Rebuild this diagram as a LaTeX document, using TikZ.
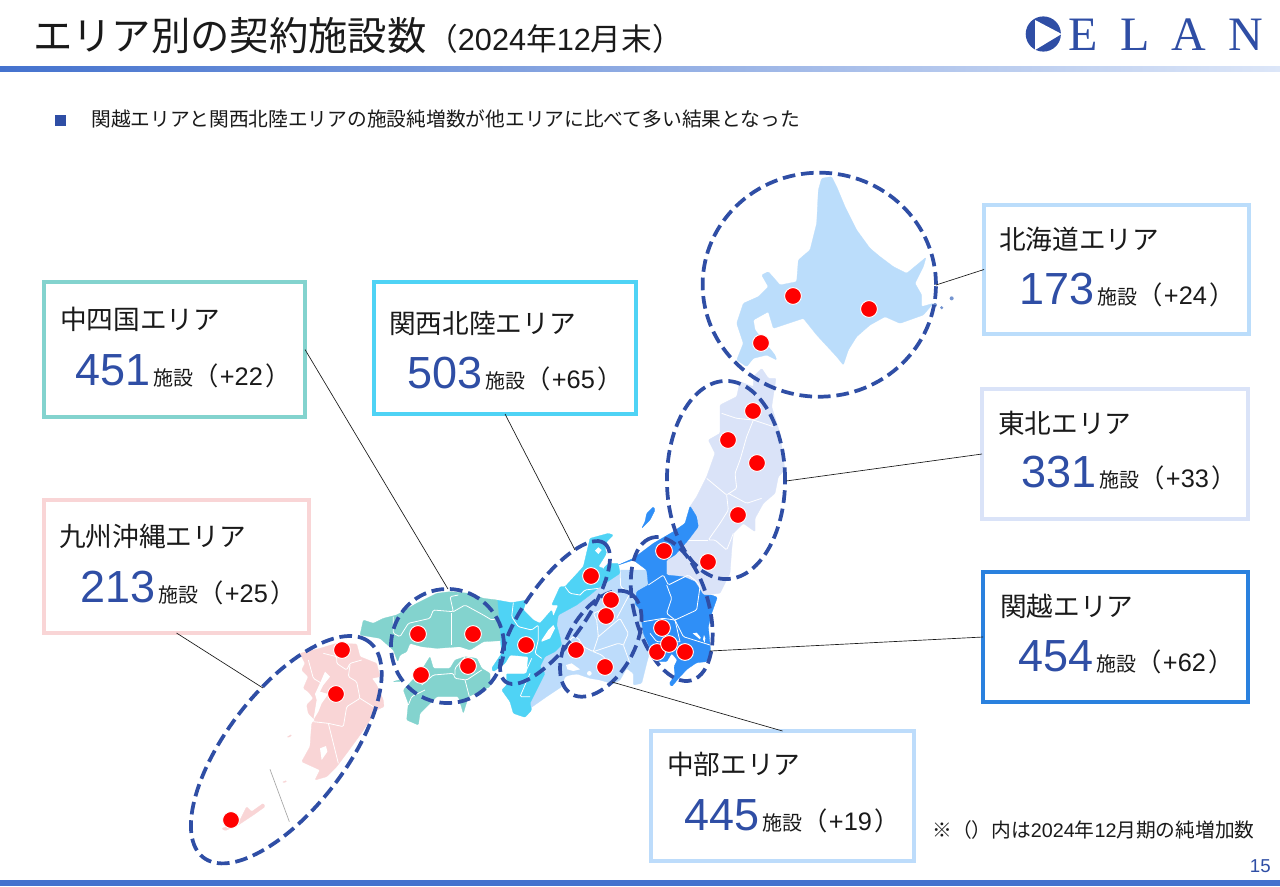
\documentclass[tikz,border=0pt]{standalone}
\usepackage{fontspec}
\setmainfont{Liberation Sans}
\newfontfamily\cjk{Noto Sans CJK JP}
\newfontfamily\serifl{Liberation Serif}
\definecolor{navy}{HTML}{2F4EA5}
\definecolor{ink}{HTML}{1A1A1A}
\definecolor{cBar}{HTML}{4472CE}
\definecolor{cBar2}{HTML}{DCE6F8}
\definecolor{cHok}{HTML}{BBDDFB}
\definecolor{cToh}{HTML}{DAE3F8}
\definecolor{cKan}{HTML}{2F8FF7}
\definecolor{cChu}{HTML}{BDDCFB}
\definecolor{cKin}{HTML}{4FD3F5}
\definecolor{cShi}{HTML}{83D3CE}
\definecolor{cKyu}{HTML}{F9D5D6}
\newcommand{\numline}[2]{{\fontsize{33.75}{36}\selectfont\color{navy}#1}\hspace{2.2pt}{\cjk\fontsize{15}{18}\selectfont\color{ink}施設}{\color{ink}\fontsize{19}{20}\selectfont{\cjk（}\hspace{1pt}+#2\hspace{2.2pt}{\cjk）}}}
\tikzset{
 x=0.75pt,y=-0.75pt,
 zm/.style 2 args={shift={(#1,#2)},x=0.25pt,y=-0.25pt},
 land/.style={fill=#1,draw=#1,line width=0.2pt,rounded corners=0.8pt},
 seam/.style={draw=white,line width=0.6pt,rounded corners=1pt},
 ring/.style={draw=navy,line width=2.8pt,dash pattern=on 9.5pt off 4.4pt},
 spot/.style={circle,fill=red,draw=white,line width=0.7pt,minimum size=12.6pt,inner sep=0pt},
 areabox/.style 2 args={draw=#1,line width=2.5pt,fill=white,inner sep=0pt,outer sep=0pt,minimum width=#2},
 lead/.style={draw=ink,line width=0.5pt},
 areaname/.style={anchor=base west,inner sep=0pt,text=ink,font=\cjk\fontsize{20}{24}\selectfont},
 areanum/.style={anchor=base west,inner sep=0pt},
 logol/.style={anchor=base,inner sep=0pt,text=navy,font=\serifl\fontsize{36}{40}\selectfont},
}
\begin{document}
\begin{tikzpicture}
\useasboundingbox (0,0) rectangle (1280,886);
\fill[white] (0,0) rectangle (1280,886);
% header
\shade[left color=cBar,right color=cBar2] (0,66) rectangle (1280,71);
\fill[cBar] (0,880) rectangle (1280,886);
\node[anchor=base west,inner sep=0pt,text=ink,font=\cjk\fontsize{29.5}{34}\selectfont] (title) at (33,50) {エリア別の契約施設数};
\node[anchor=base west,inner sep=0pt,text=ink,font=\fontsize{23}{26}\selectfont] (period) at (427,50) {{\cjk（}2024{\cjk 年}12{\cjk 月末）}};
\node[anchor=center,fill=navy,minimum size=8.2pt,inner sep=0pt] (bullet) at (60.5,120.5) {};
\node[anchor=base west,inner sep=0pt,text=ink,font=\cjk\fontsize{14.8}{18}\selectfont] (lead) at (91,126) {関越エリアと関西北陸エリアの施設純増数が他エリアに比べて多い結果となった};
\node[anchor=base west,inner sep=0pt,text=ink,font=\fontsize{14.8}{18}\selectfont] (note) at (932,837) {{\cjk ※（）内は}2024{\cjk 年}12{\cjk 月期の純増加数}};
\node[anchor=base east,inner sep=0pt,text=navy,font=\fontsize{14}{16}\selectfont] (page) at (1271,872) {15};
% logo
\fill[navy] (1043.3,34) circle[radius=13.2pt];
\fill[white] (1035,20) -- (1061.6,34) -- (1035,50) -- cycle;
\node[logol] (logoE) at (1083,50) {E};
\node[logol] (logoL) at (1135,50) {L};
\node[logol] (logoA) at (1189,50) {A};
\node[logol] (logoN) at (1246,50) {N};
% map
\begin{scope}[zm={490}{530}]
\path[land=cChu] (165,380) -- (215,345) -- (210,320) -- (200,285) -- (205,255) -- (260,225) -- (300,195) -- (345,160) -- (390,120) -- (470,120) -- (475,165) -- (440,185) -- (435,220) -- (450,240) -- (460,310) -- (475,350) -- (478,370) -- (470,400) -- (455,460) -- (430,465) -- (430,430) -- (410,415) -- (390,450) -- (370,462) -- (330,450) -- (300,445) -- (262,432) -- (240,435) -- (225,440) -- (215,470) -- (170,500) -- (120,535) -- (120,520) -- (165,430) -- (150,410) -- cycle;
\path[fill=white] (228,405) -- (245,400) -- (270,418) -- (250,423) -- (232,418) -- cycle;
\path[fill=white] (298,430) circle[radius=7];
\draw[seam] (320,270) -- (325,320) -- (310,365) -- (280,350) -- (265,325) -- (250,320) -- (240,330);
\draw[seam] (310,365) -- (335,375) -- (345,385);
\draw[seam] (325,320) -- (390,265) -- (415,310) -- (400,345) -- (420,400);
\draw[seam] (310,365) -- (385,340) -- (400,345);
\draw[seam] (390,120) -- (392,170) -- (420,190) -- (380,265);
\draw[seam] (320,270) -- (310,250) -- (345,235);
\path[land=cKin] (300,25) -- (355,10) -- (370,15) -- (350,35) -- (345,55) -- (350,70) -- (325,110) -- (340,115) -- (355,100) -- (385,100) -- (390,130) -- (345,160) -- (330,170) -- (300,195) -- (260,225) -- (205,255) -- (200,285) -- (210,320) -- (215,345) -- (195,365) -- (165,380) -- (150,410) -- (165,430) -- (120,520) -- (125,540) -- (105,562) -- (70,550) -- (60,515) -- (35,480) -- (50,465) -- (50,430) -- (110,430) -- (115,380) -- (60,375) -- (45,400) -- (10,425) -- (5,415) -- (35,370) -- (20,210) -- (65,218) -- (110,210) -- (100,240) -- (130,270) -- (150,280) -- (185,240) -- (190,260) -- (205,225) -- (185,225) -- (210,170) -- (225,170) -- (280,110) -- cycle;
\path[fill=white] (155,330) -- (175,300) -- (190,285) -- (195,295) -- (180,325) -- (155,335) -- cycle;
\path[fill=white] (315,62) -- (325,52) -- (335,60) -- (325,72) -- cycle;
\draw[seam] (70,218) -- (65,260) -- (85,290) -- (125,300) -- (145,285) -- (145,330) -- (135,370) -- (155,385);
\draw[seam] (225,170) -- (240,190) -- (270,195);
\draw[seam] (125,385) -- (105,430) -- (50,430);
\draw[seam] (120,430) -- (90,500) -- (120,500);
\draw[seam] (270,195) -- (285,180) -- (325,175);
\draw[seam] (350,70) -- (340,115);
\end{scope}
\begin{scope}[zm={350}{590}]
\path[land=cShi] (40,90) -- (70,100) -- (100,85) -- (140,75) -- (200,40) -- (260,10) -- (300,5) -- (360,10) -- (400,25) -- (442,30) -- (452,152) -- (400,155) -- (360,180) -- (330,170) -- (260,175) -- (215,170) -- (180,160) -- (170,185) -- (150,195) -- (143,215) -- (130,180) -- (90,145) -- (30,135) -- cycle;
\path[land=cShi] (240,200) -- (250,235) -- (300,235) -- (315,210) -- (345,200) -- (380,205) -- (395,235) -- (420,250) -- (420,290) -- (355,320) -- (340,370) -- (325,320) -- (260,320) -- (210,370) -- (205,405) -- (170,390) -- (175,340) -- (160,300) -- (215,240) -- cycle;
\path[land=cShi] (128,275) -- (155,268) -- (150,275) -- cycle;
\draw[seam] (130,80) -- (130,130) -- (150,140) -- (175,100) -- (240,85) -- (250,60) -- (310,65) -- (300,20) -- (325,15);
\draw[seam] (310,65) -- (345,45) -- (400,75) -- (425,90) -- (442,85);
\draw[seam] (305,70) -- (305,165);
\draw[seam] (215,285) -- (250,255) -- (310,250) -- (315,265) -- (350,270) -- (395,240);
\draw[seam] (345,200) -- (315,235) -- (315,255);
\draw[seam] (345,270) -- (358,320);
\draw[seam] (225,300) -- (185,320) -- (175,345);
\end{scope}
\begin{scope}[zm={180}{620}]
\path[land=cKyu] (360,100) -- (420,85) -- (470,70) -- (530,72) -- (540,110) -- (590,130) -- (600,170) -- (575,175) -- (590,195) -- (610,240) -- (612,260) -- (590,270) -- (570,300) -- (540,345) -- (500,400) -- (470,440) -- (440,470) -- (405,480) -- (420,450) -- (365,425) -- (390,380) -- (395,310) -- (405,300) -- (385,280) -- (380,255) -- (400,235) -- (385,215) -- (370,205) -- (385,170) -- (365,150) -- (375,130) -- cycle;
\path[fill=white] (435,155) -- (450,170) -- (430,195) -- (420,215) -- (445,222) -- (425,250) -- (415,275) -- (400,300) -- (405,270) -- (410,240) -- (405,222) -- (422,185) -- cycle;
\path[fill=white] (420,385) -- (438,378) -- (442,395) -- (425,420) -- cycle;
\path[land=cKyu] (125,625) -- (175,610) -- (190,580) -- (200,560) -- (215,575) -- (250,550) -- (255,560) -- (220,585) -- (175,615) -- (135,632) -- cycle;
\path[land=cKyu] (320,352) -- (335,343) -- (332,350) -- cycle;
\path[land=cKyu] (306,487) -- (320,481) -- (318,487) -- cycle;
\draw[seam] (385,120) -- (400,175) -- (425,190);
\draw[seam] (430,100) -- (470,110) -- (470,130) -- (500,150) -- (510,130) -- (545,120);
\draw[seam] (510,135) -- (505,170) -- (530,185) -- (540,235) -- (500,260) -- (490,320) -- (445,310) -- (400,305);
\draw[seam] (540,235) -- (580,260);
\draw[seam] (445,310) -- (465,390) -- (475,430);
\draw[gray!70,line width=0.5pt] (270,448) -- (328,605);
\end{scope}
\begin{scope}[zm={640}{160}]
\path[land=cToh] (365,625) -- (385,655) -- (408,655) -- (395,740) -- (420,820) -- (435,930) -- (415,950) -- (405,1000) -- (370,1030) -- (345,1075) -- (345,1115) -- (310,1090) -- (280,1120) -- (275,1170) -- (270,1240) -- (240,1300) -- (190,1305) -- (165,1265) -- (130,1250) -- (80,1245) -- (80,1200) -- (105,1170) -- (145,1135) -- (175,1075) -- (150,1040) -- (170,1010) -- (200,950) -- (225,880) -- (205,840) -- (240,820) -- (240,735) -- (290,710) -- (300,665) -- (340,680) -- (340,650) -- cycle;
\draw[seam] (245,760) -- (290,775) -- (340,780) -- (400,800);
\draw[seam] (340,780) -- (320,830) -- (300,900) -- (285,940) -- (290,985) -- (260,1005) -- (200,955);
\draw[seam] (260,1005) -- (265,1050) -- (240,1090) -- (205,1140) -- (225,1140) -- (260,1170) -- (280,1120);
\draw[seam] (265,1000) -- (320,1030) -- (365,1015);
\draw[seam] (205,1140) -- (145,1140);
\path[land=cHok] (545,55) -- (575,50) -- (590,80) -- (615,140) -- (650,210) -- (690,265) -- (720,290) -- (760,320) -- (800,340) -- (858,292) -- (850,320) -- (825,370) -- (845,405) -- (845,440) -- (880,430) -- (850,465) -- (780,490) -- (735,470) -- (690,495) -- (650,530) -- (625,570) -- (610,615) -- (590,590) -- (530,525) -- (490,475) -- (400,505) -- (385,455) -- (340,480) -- (345,510) -- (405,585) -- (410,600) -- (380,585) -- (340,595) -- (320,620) -- (290,600) -- (310,550) -- (290,490) -- (310,430) -- (355,410) -- (385,380) -- (365,345) -- (385,335) -- (420,375) -- (470,365) -- (475,300) -- (510,270) -- (530,190) -- (535,90) -- cycle;
\fill[cHok!50!navy] (885,435) circle[radius=6] (905,443) circle[radius=5] (935,415) circle[radius=6];
\path[land=cKan] (40,1040) -- (45,1050) -- (30,1080) -- (5,1105) -- (15,1085) -- (20,1060) -- cycle;
\end{scope}
\begin{scope}[zm={600}{520}]
\path[land=cKan] (270,-42) -- (290,-10) -- (295,20) -- (265,60) -- (225,105) -- (200,120) -- (200,165) -- (250,170) -- (285,185) -- (310,225) -- (335,225) -- (352,232) -- (335,280) -- (325,320) -- (332,395) -- (320,425) -- (290,428) -- (262,447) -- (240,470) -- (215,500) -- (208,490) -- (225,465) -- (222,440) -- (232,420) -- (215,400) -- (200,425) -- (170,425) -- (150,385) -- (130,340) -- (120,270) -- (105,250) -- (110,215) -- (145,195) -- (140,150) -- (100,120) -- (55,135) -- (100,115) -- (160,70) -- (220,35) -- (255,10) -- cycle;
\draw[seam] (145,195) -- (190,165) -- (205,195) -- (265,165) -- (290,185) -- (300,200) -- (290,270) -- (225,300) -- (200,280) -- (215,235) -- (200,195);
\draw[seam] (130,305) -- (190,295) -- (225,300) -- (250,350) -- (330,375);
\draw[seam] (225,300) -- (240,365);
\draw[seam] (150,340) -- (170,365) -- (240,365);
\path[fill=white] (278,340) -- (290,338) -- (302,352) -- (300,358) -- cycle;
\path[fill=white] (312,345) -- (316,355) -- (314,368) -- (309,358) -- cycle;
\end{scope}
% rings
\draw[ring] (819.3,284.7) ellipse[x radius=87.5pt,y radius=84pt];
\coordinate (ringHok) at (936,285);
\draw[ring] (726,480) ellipse[x radius=44.3pt,y radius=74.3pt];
\coordinate (ringToh) at (786,481);
\draw[ring] (447.5,646) ellipse[x radius=42.4pt,y radius=42.8pt];
\coordinate (ringShi) at (448,589);
\begin{scope}[shift={(555,612.5)},rotate=54.6]
\draw[ring] (0,0) ellipse[x radius=63.8pt,y radius=22.4pt];
\end{scope}
\coordinate (ringKin) at (575,550);
\begin{scope}[shift={(671.7,609)},rotate=105.5]
\draw[ring] (0,0) ellipse[x radius=55.5pt,y radius=27.9pt];
\end{scope}
\coordinate (ringKan) at (710,651);
\begin{scope}[shift={(600.8,643.7)},rotate=59.8]
\draw[ring] (0,0) ellipse[x radius=43.7pt,y radius=24.6pt];
\end{scope}
\coordinate (ringChu) at (612,682);
\begin{scope}[shift={(286.3,749.7)},rotate=52.4]
\draw[ring] (0,0) ellipse[x radius=102pt,y radius=44.5pt];
\end{scope}
\coordinate (ringKyu) at (263,688);
% boxes
\node[areabox={cHok}{198.75pt},minimum height=96.75pt] (boxHok) at (1116.5,269.5) {};
\node[areabox={cToh}{199.5pt},minimum height=97.5pt] (boxToh) at (1115,454) {};
\node[areabox={cKan!90!black}{198.75pt},minimum height=97.5pt] (boxKan) at (1115.5,637) {};
\node[areabox={cChu}{197.25pt},minimum height=97.5pt] (boxChu) at (782.5,796) {};
\node[areabox={cKin}{196.5pt},minimum height=99pt] (boxKin) at (505,348) {};
\node[areabox={cShi}{195.75pt},minimum height=101.25pt] (boxShi) at (174.5,349.5) {};
\node[areabox={cKyu}{198.75pt},minimum height=99.75pt] (boxKyu) at (176.5,566.5) {};
% connectors
\draw[lead] (boxHok.west) -- (ringHok);
\draw[lead] (boxToh.west) -- (ringToh);
\draw[lead] (boxKan.west) -- (ringKan);
\draw[lead] (boxChu.north) -- (ringChu);
\draw[lead] (boxKin.south) -- (ringKin);
\draw[lead] (boxShi.east) -- (ringShi);
\draw[lead] (boxKyu.south) -- (ringKyu);
% texts
\node[areaname] (nameHok) at (999,249) {北海道エリア};
\node[areanum] (numHok) at (1019,304) {\numline{173}{24}};
\node[areaname] (nameToh) at (998,433) {東北エリア};
\node[areanum] (numToh) at (1021,487) {\numline{331}{33}};
\node[areaname] (nameKan) at (1000,616) {関越エリア};
\node[areanum] (numKan) at (1018,671) {\numline{454}{62}};
\node[areaname] (nameChu) at (667,774) {中部エリア};
\node[areanum] (numChu) at (684,830) {\numline{445}{19}};
\node[areaname] (nameKin) at (389,333) {関西北陸エリア};
\node[areanum] (numKin) at (407,388) {\numline{503}{65}};
\node[areaname] (nameShi) at (60,329) {中四国エリア};
\node[areanum] (numShi) at (75,385) {\numline{451}{22}};
\node[areaname] (nameKyu) at (59,546) {九州沖縄エリア};
\node[areanum] (numKyu) at (80,602) {\numline{213}{25}};
% spots
\foreach \n/\p in {a/{793,296},b/{869,309},c/{761,343},d/{753,411},e/{728,440},f/{757,463},g/{738,515},h/{708,562},i/{664,551},j/{662,628},k/{657,652},l/{685,652},m/{669,644},n/{611,600},o/{606,616},p/{576,650},q/{605,667},r/{591,576},s/{526,645},t/{418,634},u/{473,634},v/{421,675},w/{468,666},x/{342,650},y/{336,694},z/{231,820}}
  \node[spot] (spot\n) at (\p) {};
\end{tikzpicture}
\end{document}
